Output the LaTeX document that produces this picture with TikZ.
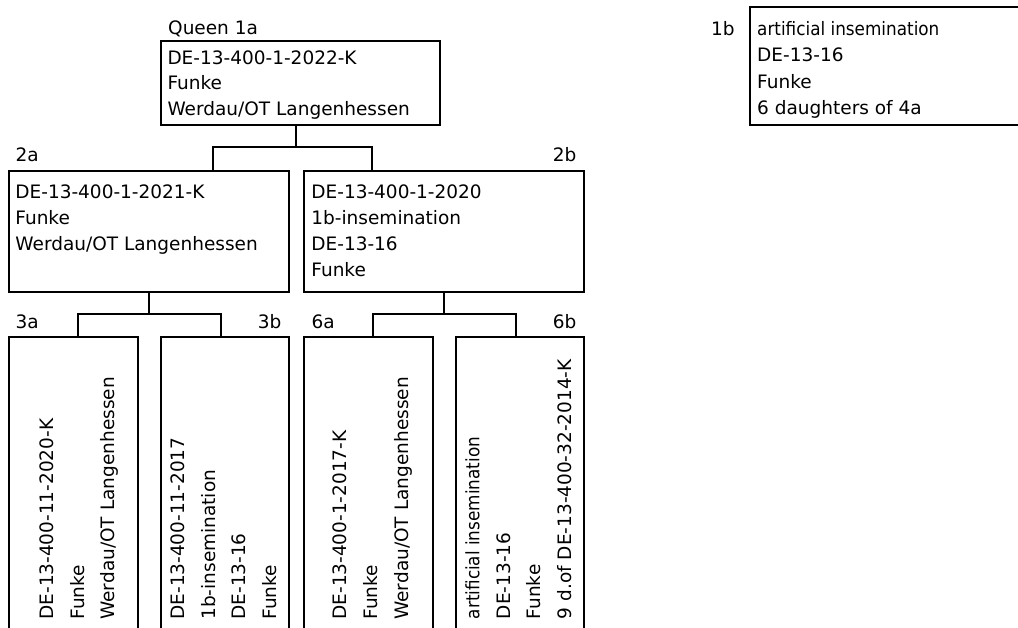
\documentclass[tikz,border=0pt]{standalone}
\usepackage{fontspec}
\setmainfont{DejaVu Sans}
\newfontfamily\condfont[FakeStretch=0.91]{DejaVu Sans}
\newcommand\mystrut{\rule[-5pt]{0pt}{20pt}}
\begin{document}
\begin{tikzpicture}[x=1pt,y=-1pt,
  box/.style={draw, line width=1.2pt, anchor=north west, inner sep=0pt, outer sep=0pt},
  txt/.style={align=left, inner sep=0pt, anchor=north west, font=\fontsize{18.5}{26}\selectfont},
  lbl/.style={inner sep=0pt, anchor=base west, font=\fontsize{18.5}{22}\selectfont},
  lblr/.style={lbl, anchor=base east},
  rtxt/.style={align=left, inner sep=0pt, rotate=90, anchor=south west, font=\fontsize{18.5}{30.7}\selectfont},
  con/.style={line width=1.2pt}]
\useasboundingbox (0,0) rectangle (1018,628);
\clip (0,0) rectangle (1018,628);

% level 1
\node[box, minimum width=279pt, minimum height=84pt] (n1a) at (161,41) {};
\node[lbl] (q1a) at (168,34.5) {Queen 1a};
\node[txt, font=\fontsize{18.5}{25.5}\selectfont] (t1a) at (167.3,49)
  {\mystrut DE-13-400-1-2022-K\\\mystrut Funke\\\mystrut Werdau/OT Langenhessen};

\node[box, minimum width=300pt, minimum height=118pt] (n1b) at (750,7) {};
\node[lbl] (l1b) at (711,35.5) {1b};
\node[txt, font=\fontsize{18.5}{26.3}\selectfont] (t1b) at (757,20.5)
  {\mystrut{\condfont artificial insemination}\\\mystrut DE-13-16\\\mystrut Funke\\\mystrut 6 daughters of 4a};

% level 2
\node[box, minimum width=280pt, minimum height=121pt] (n2a) at (9,171) {};
\node[lbl] (l2a) at (15.4,162) {2a};
\node[txt] (t2a) at (15.2,183)
  {\mystrut DE-13-400-1-2021-K\\\mystrut Funke\\\mystrut Werdau/OT Langenhessen};

\node[box, minimum width=280pt, minimum height=121pt] (n2b) at (304,171) {};
\node[lblr] (l2b) at (576.5,162) {2b};
\node[txt] (t2b) at (311.2,183)
  {\mystrut DE-13-400-1-2020\\\mystrut 1b-insemination\\\mystrut DE-13-16\\\mystrut Funke};

% level 3
\node[box, minimum width=129pt, minimum height=330pt] (n3a) at (9,337) {};
\node[box, minimum width=128pt, minimum height=330pt] (n3b) at (161,337) {};
\node[box, minimum width=129pt, minimum height=330pt] (n6a) at (304,337) {};
\node[box, minimum width=128pt, minimum height=330pt] (n6b) at (456,337) {};

\node[lbl] (l3a) at (15.4,329) {3a};
\node[lblr] (l3b) at (281.5,329) {3b};
\node[lbl] (l6a) at (311.4,329) {6a};
\node[lblr] (l6b) at (576.5,329) {6b};

\node[rtxt] (t3a) at (120,619.8)
  {\mystrut DE-13-400-11-2020-K\\\mystrut Funke\\\mystrut Werdau/OT Langenhessen};
\node[rtxt] (t3b) at (281.7,619.8)
  {\mystrut DE-13-400-11-2017\\\mystrut 1b-insemination\\\mystrut DE-13-16\\\mystrut Funke};
\node[rtxt] (t6a) at (413.3,619.8)
  {\mystrut DE-13-400-1-2017-K\\\mystrut Funke\\\mystrut Werdau/OT Langenhessen};
\node[rtxt] (t6b) at (576.7,619.3)
  {\mystrut{\condfont artificial insemination}\\\mystrut DE-13-16\\\mystrut Funke\\\mystrut 9 d.of DE-13-400-32-2014-K};

% connectors
\coordinate (j1) at (296,147);
\draw[con] (n1a.south -| j1) -- (j1);
\draw[con] (j1) -| ([xshift=64pt]n2a.north);
\draw[con] (j1) -| ([xshift=-72pt]n2b.north);

\coordinate (j2a) at (149,314);
\draw[con] (n2a.south) -- (n2a.south |- j2a);
\draw[con] (j2a) -| ([xshift=4.5pt]n3a.north);
\draw[con] (j2a) -| ([xshift=-4pt]n3b.north);

\coordinate (j2b) at (444,314);
\draw[con] (n2b.south) -- (n2b.south |- j2b);
\draw[con] (j2b) -| ([xshift=4.5pt]n6a.north);
\draw[con] (j2b) -| ([xshift=-4pt]n6b.north);
\end{tikzpicture}
\end{document}
